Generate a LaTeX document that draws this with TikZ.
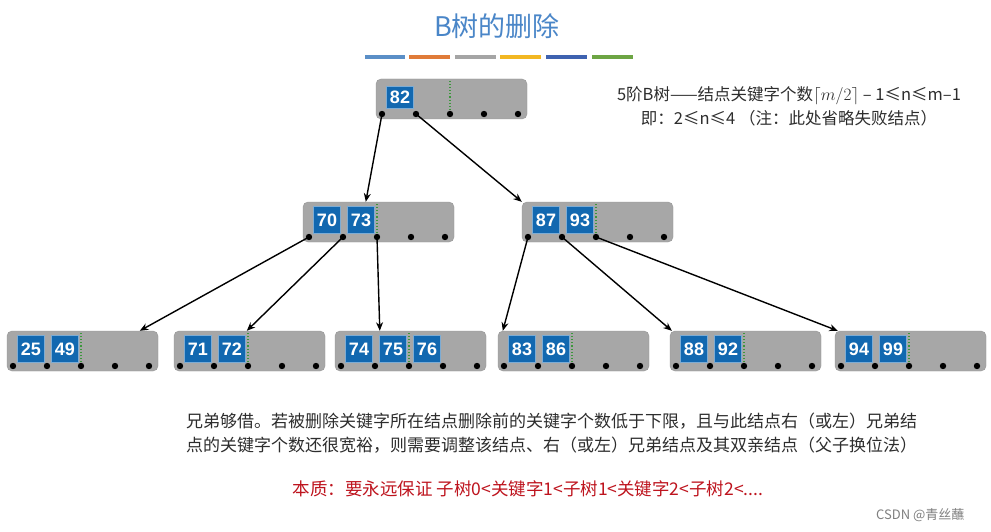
\documentclass[tikz,border=0pt]{standalone}
\usepackage{fontspec}
\setmainfont{Noto Sans CJK SC}
\newfontfamily\keyfont{Liberation Sans}
\usetikzlibrary{arrows.meta,calc}
\definecolor{keyblue}{RGB}{18,104,176}
\definecolor{boxgray}{RGB}{167,167,167}
\definecolor{titleblue}{RGB}{74,134,200}
\definecolor{darktext}{RGB}{45,45,45}
\definecolor{redtext}{RGB}{190,20,30}
\definecolor{dotgreen}{RGB}{60,150,60}
\definecolor{barA}{RGB}{91,143,199}
\definecolor{barB}{RGB}{224,123,57}
\definecolor{barC}{RGB}{165,165,165}
\definecolor{barD}{RGB}{242,183,34}
\definecolor{barE}{RGB}{62,98,176}
\definecolor{barF}{RGB}{109,165,68}
\tikzset{
  bbox/.style={rectangle, rounded corners=5pt, fill=boxgray, draw=boxgray!90!black, line width=0.4pt, minimum width=151pt, minimum height=40pt, inner sep=0pt},
  bkey/.style={rectangle, fill=keyblue, draw=keyblue!55!white, line width=0.5pt, minimum width=27pt, inner sep=0pt, text=white, font=\keyfont\bfseries\fontsize{18}{18}\selectfont},
  arr/.style={-{Stealth[length=8.5pt,width=7pt]}, line width=1.4pt, black},
  minline/.style={dotgreen, dotted, line width=1.1pt},
  bodytext/.style={text=darktext, inner sep=0pt},
}
\newcommand\btnode[5]{%
  \node[bbox] (#1) at (#2+75.5, #3+20) {};
  \foreach \i in {1,...,5} {\coordinate (#1-d\i) at (#2+6+34*\i-34, #3+35);}
  \draw[minline] (#2+74, #3+2) -- (#1-d3);
  \foreach \k [count=\i] in {#4} {\node[bkey, minimum height=#5] (#1-k\i) at (#2+24+34*\i-34, #3+18) {\k};}
  \foreach \i in {1,...,5} {\fill (#1-d\i) circle (3.2);}
}
\begin{document}
\begin{tikzpicture}[x=1pt,y=-1pt]
\fill[white] (0,0) rectangle (991,532);
\useasboundingbox (0,0) rectangle (991,532);

\node[font=\fontsize{27}{27}\selectfont, text=titleblue, inner sep=0pt] (title) at (497,26) {B树的删除};
\fill[barA] (365,55.5) rectangle (405,59.5);
\fill[barB] (409,55.5) rectangle (450,59.5);
\fill[barC] (455,55.5) rectangle (496,59.5);
\fill[barD] (500,55.5) rectangle (541,59.5);
\fill[barE] (546,55.5) rectangle (587,59.5);
\fill[barF] (592,55.5) rectangle (633,59.5);

\btnode{root}{376}{79}{82}{22pt}
\btnode{L}{303}{202}{70,73}{27pt}
\btnode{R}{522}{202}{87,93}{27pt}
\btnode{c1}{7}{331}{25,49}{27pt}
\btnode{c2}{174}{331}{71,72}{27pt}
\btnode{c3}{335}{331}{74,75,76}{27pt}
\btnode{c4}{498}{331}{83,86}{27pt}
\btnode{c5}{670}{331}{88,92}{27pt}
\btnode{c6}{835}{331}{94,99}{27pt}

\draw[arr] (root-d1) -- ([xshift=63pt]L.north west);
\draw[arr] (root-d2) -- (R.north west);
\draw[arr] (L-d1) -- ([xshift=133pt]c1.north west);
\draw[arr] (L-d2) -- ([xshift=73pt]c2.north west);
\draw[arr] (L-d3) -- ([xshift=45pt]c3.north west);
\draw[arr] (R-d1) -- ([xshift=5pt]c4.north west);
\draw[arr] (R-d2) -- ([xshift=2pt]c5.north west);
\draw[arr] (R-d3) -- ([xshift=3pt]c6.north west);

\node[bodytext, font=\fontsize{16.5}{16.5}\selectfont] (info1) at (789,96) {5阶B树——结点关键字个数$\lceil m/2\rceil$ – 1≤n≤m–1};
\node[bodytext, font=\fontsize{16.5}{16.5}\selectfont] (info2) at (789,118) {即：2≤n≤4 （注：此处省略失败结点）};

\node[bodytext, anchor=west, font=\fontsize{17}{17}\selectfont] (desc1) at (186,421) {兄弟够借。若被删除关键字所在结点删除前的关键字个数低于下限，且与此结点右（或左）兄弟结};
\node[bodytext, anchor=west, font=\fontsize{17}{17}\selectfont] (desc2) at (186,445) {点的关键字个数还很宽裕，则需要调整该结点、右（或左）兄弟结点及其双亲结点（父子换位法）};
\node[inner sep=0pt, text=redtext, font=\fontsize{17.5}{17.5}\selectfont] (essence) at (528,489) {本质：要永远保证 子树0<关键字1<子树1<关键字2<子树2<....};
\node[inner sep=0pt, anchor=west, text=gray, font=\fontsize{13}{13}\selectfont] (mark) at (876,515) {CSDN @青丝蘸};
\end{tikzpicture}
\end{document}
